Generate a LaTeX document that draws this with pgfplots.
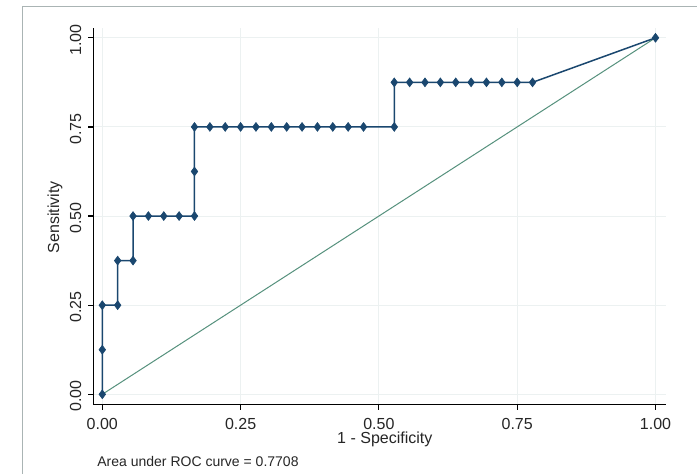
\documentclass[border=0pt]{standalone}
\usepackage{fontspec}
\setmainfont{Liberation Sans}
\usepackage{pgfplots}
\pgfplotsset{compat=1.18}
\definecolor{statanavy}{RGB}{26,71,111}
\definecolor{refgreen}{RGB}{86,145,125}
\definecolor{gridc}{RGB}{236,241,241}
\definecolor{framec}{RGB}{170,180,180}
\begin{document}
\begin{tikzpicture}[x=0.5pt,y=0.5pt]
\useasboundingbox (0,0) rectangle (697,473);
\fill[white] (0,0) rectangle (697,473);
\draw[framec, line width=0.75pt] (22.5,-5) -- (22.5,466.5) -- (705,466.5);
\begin{axis}[
  at={(46.65pt,34.25pt)}, anchor=south west,
  scale only axis, width=286.35pt, height=188.1pt,
  xmin=-0.01627, xmax=1.019, ymin=-0.0286, ymax=1.0266,
  axis x line*=bottom, axis y line*=left,
  axis line style={black, line width=0.6pt, -},
  xtick={0,0.25,0.5,0.75,1}, ytick={0,0.25,0.5,0.75,1},
  tick align=outside, major tick length=2.5pt,
  tick style={black, line width=0.6pt},
  grid=major, grid style={gridc, line width=0.5pt},
  /pgf/number format/assume math mode=true,
  /pgf/number format/.cd, fixed, fixed zerofill, precision=2, /pgfplots/.cd,
  ticklabel style={font=\fontsize{8}{9}\selectfont, text=black!85},
  xticklabel style={yshift=-1pt},
  yticklabel style={rotate=90, anchor=south, xshift=-1pt},
  xlabel={1 - Specificity}, ylabel={Sensitivity},
  label style={font=\fontsize{8}{9}\selectfont, text=black!85},
  xlabel style={at={(axis description cs:0.509,-0.092)}, anchor=center},
  ylabel style={at={(axis description cs:-0.0669,0.498)}, anchor=center, rotate=0},
  clip=false,
]
\addplot[refgreen, line width=0.5pt, no marks] coordinates {(0,0) (1,1)};
\addplot[statanavy, line width=0.75pt, mark=diamond*, mark size=2.2pt,
  mark options={fill=statanavy, draw=statanavy, line width=0.3pt}] coordinates {
(0,0) (0,0.125) (0,0.25) (0.027778,0.25) (0.027778,0.375) (0.055556,0.375)
(0.055556,0.5) (0.083333,0.5) (0.111111,0.5) (0.138889,0.5) (0.166667,0.5)
(0.166667,0.625) (0.166667,0.75) (0.194444,0.75) (0.222222,0.75) (0.25,0.75)
(0.277778,0.75) (0.305556,0.75) (0.333333,0.75) (0.361111,0.75) (0.388889,0.75)
(0.416667,0.75) (0.444444,0.75) (0.472222,0.75) (0.527778,0.75) (0.527778,0.875)
(0.555556,0.875) (0.583333,0.875) (0.611111,0.875) (0.638889,0.875) (0.666667,0.875)
(0.694444,0.875) (0.722222,0.875) (0.75,0.875) (0.777778,0.875) (1,1)
};
\end{axis}
\node[anchor=west, inner sep=0pt, font=\fontsize{7}{8}\selectfont, text=black!85] at (97,12) {Area under ROC curve = 0.7708};
\end{tikzpicture}
\end{document}
